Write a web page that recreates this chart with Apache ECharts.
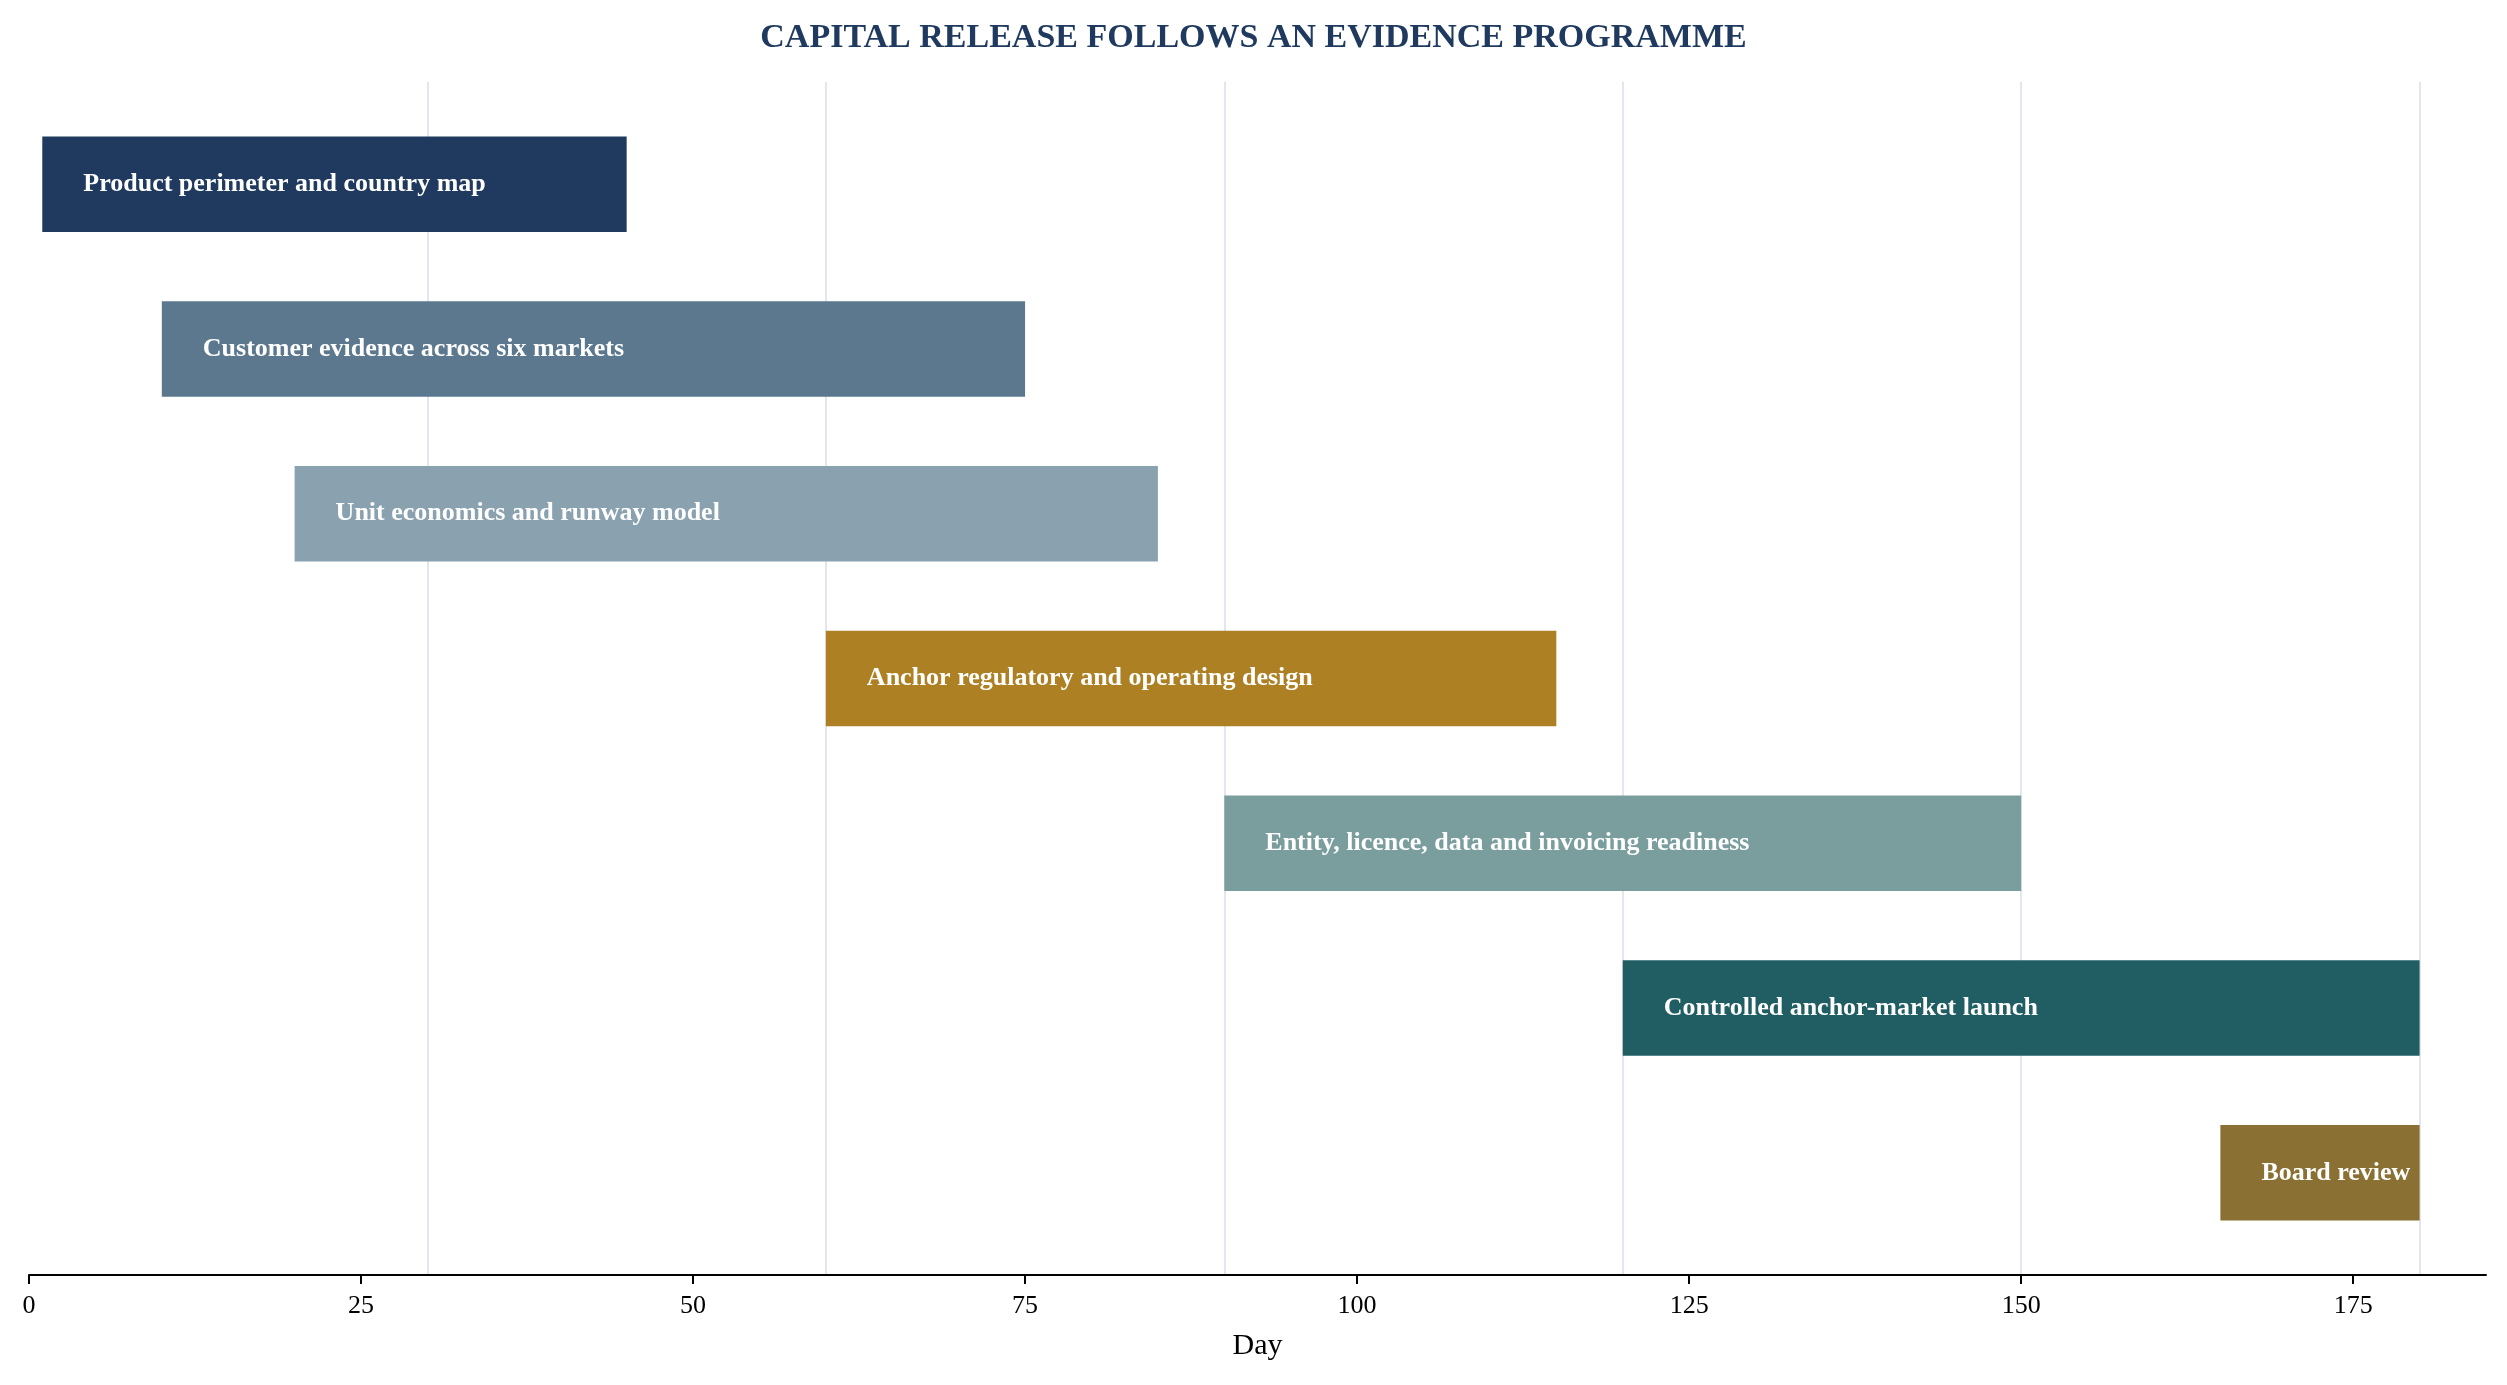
<!DOCTYPE html>
<html>
<head>
<meta charset="utf-8">
<script src="https://cdn.jsdelivr.net/npm/echarts@6/dist/echarts.min.js"></script>
<style>
  html, body { margin: 0; padding: 0; background: #fff; }
  #chart { width: 2507px; height: 1385px; }
</style>
</head>
<body>
<div id="chart"></div>
<script>
// programme phases, top to bottom
const tasks = [
  "Product perimeter and country map",
  "Customer evidence across six markets",
  "Unit economics and runway model",
  "Anchor regulatory and operating design",
  "Entity, licence, data and invoicing readiness",
  "Controlled anchor-market launch",
  "Board review",
];
const startDays = [1, 10, 20, 60, 90, 120, 165];
const endDays = [45, 75, 85, 115, 150, 180, 180];
const tickLabels = [0, 25, 50, 75, 100, 125, 150, 175];

const palette = ["#1f3a5e", "#5b788f", "#8aa1b0", "#ad8024", "#7a9d9e", "#205e63", "#8a7133"];
const serif = '"Liberation Serif", "Times New Roman", serif';

const chart = echarts.init(document.getElementById("chart"));

const rows = tasks.map((t, i) => [i, startDays[i], endDays[i]]);

function renderBar(params, api) {
  const idx = api.value(0);
  const start = api.coord([api.value(1), idx]);
  const end = api.coord([api.value(2), idx]);
  const h = api.size([0, 0.58])[1];
  return {
    type: "group",
    children: [
      {
        type: "rect",
        shape: { x: start[0], y: start[1] - h / 2, width: end[0] - start[0], height: h },
        style: { fill: palette[idx] },
      },
      {
        type: "text",
        style: {
          text: tasks[idx],
          x: start[0] + 41,
          y: start[1],
          verticalAlign: "middle",
          align: "left",
          fill: "#ffffff",
          font: "bold 26px " + serif,
        },
      },
    ],
  };
}

chart.setOption({
  backgroundColor: "#ffffff",
  animation: false,
  title: {
    text: "CAPITAL RELEASE FOLLOWS AN EVIDENCE PROGRAMME",
    left: "center",
    top: 16,
    textStyle: { fontFamily: serif, fontWeight: "bold", fontSize: 34, color: "#1f3a5e" },
  },
  grid: { left: 29, right: 21, top: 82, bottom: 110, containLabel: false },
  xAxis: [
    {
      type: "value",
      min: 0,
      max: 185,
      name: "Day",
      nameLocation: "middle",
      nameGap: 56,
      nameTextStyle: { fontFamily: serif, fontSize: 30, color: "#000" },
      axisLine: { show: true, onZero: false, lineStyle: { color: "#000", width: 2 } },
      axisTick: { show: true, length: 9, lineStyle: { color: "#000", width: 2 }, customValues: tickLabels },
      axisLabel: { fontFamily: serif, fontSize: 26, color: "#000", margin: 18, customValues: tickLabels },
      splitLine: { show: false },
    },
    {
      // 30-day guide lines
      type: "value",
      position: "top",
      min: 0,
      max: 185,
      interval: 30,
      axisLine: { show: false, onZero: false },
      axisTick: { show: false },
      axisLabel: { show: false },
      splitLine: { show: true, showMinLine: false, showMaxLine: false, lineStyle: { color: "#d8dee8", width: 1.5 } },
    },
  ],
  yAxis: {
    type: "value",
    inverse: true,
    min: -0.62,
    max: 6.62,
    show: false,
    splitLine: { show: false },
  },
  series: [
    {
      type: "custom",
      xAxisIndex: 0,
      renderItem: renderBar,
      encode: { x: [1, 2], y: 0 },
      data: rows,
    },
  ],
});
</script>
</body>
</html>
